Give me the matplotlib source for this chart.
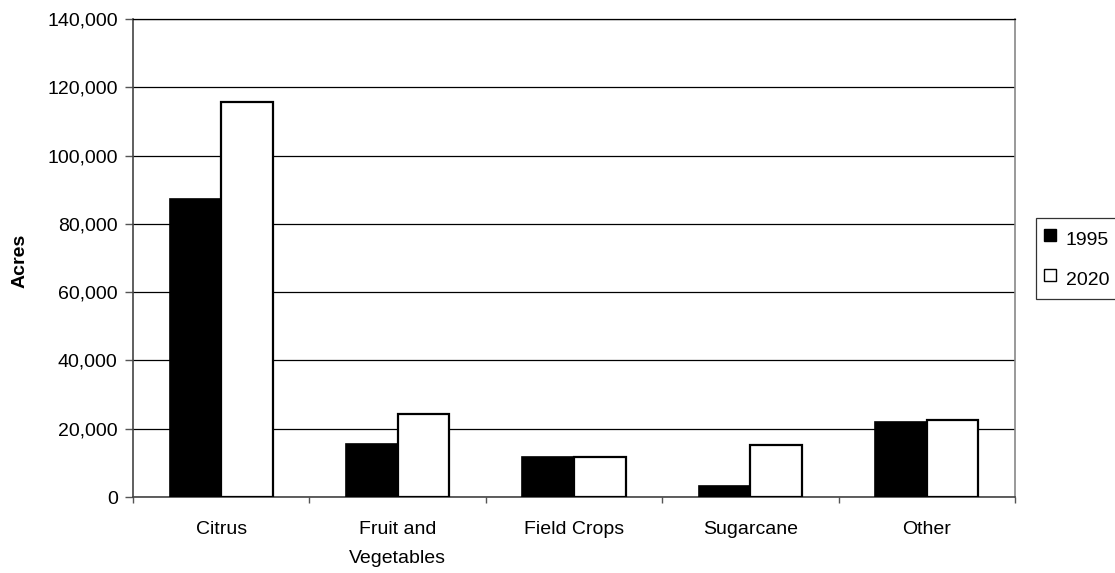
import matplotlib
matplotlib.use("Agg")
import matplotlib.pyplot as plt
import numpy as np
from matplotlib.ticker import FuncFormatter, FixedLocator
from matplotlib.lines import Line2D

plt.rcParams['font.family'] = ['Liberation Sans', 'DejaVu Sans']

categories = ["Citrus", "Fruit and\nVegetables", "Field Crops", "Sugarcane", "Other"]
acres_1995 = [87300, 15400, 11700, 3200, 22100]
acres_2020 = [115800, 24300, 11600, 15300, 22500]
years = ["1995", "2020"]

FS = 14

fig = plt.figure(figsize=(11.15, 5.73), dpi=100)
ax = fig.add_axes([133 / 1115, 1 - 497 / 573, (1015 - 133) / 1115, (497 - 19) / 573])

x = np.arange(len(categories))
w = 0.292
ax.bar(x - w / 2, acres_1995, width=w, color="black", edgecolor="black", linewidth=1.2, zorder=3)
ax.bar(x + w / 2, acres_2020, width=w, color="white", edgecolor="black", linewidth=1.6, zorder=3)

ax.set_xlim(-0.5, len(categories) - 0.5)
ax.set_ylim(0, 140000)
ax.set_yticks(np.arange(0, 140001, 20000))
ax.yaxis.set_major_formatter(FuncFormatter(lambda v, p: f"{int(v):,}"))
ax.grid(axis="y", color="black", linewidth=0.9, zorder=0)

ax.set_xticks(x)
ax.set_xticklabels(categories, fontsize=FS, linespacing=1.93, va="top")
ax.tick_params(axis="x", length=0, pad=17.5)
ax.xaxis.set_minor_locator(FixedLocator(np.arange(-0.5, len(categories), 1.0)))
ax.tick_params(axis="x", which="minor", length=4.5, color="#555555", width=1)
ax.tick_params(axis="y", length=6, color="#555555", width=1, labelsize=FS, pad=5)

for side in ["left", "bottom"]:
    ax.spines[side].set_color("#444444")
    ax.spines[side].set_linewidth(1.2)
ax.spines["right"].set_color("#888888")
ax.spines["right"].set_linewidth(1.2)
ax.spines["top"].set_color("black")
ax.spines["top"].set_linewidth(0.9)

ax.set_ylabel("Acres", fontsize=FS, fontweight="bold")
ax.yaxis.set_label_coords(-0.119, 0.494)

handles = [
    Line2D([], [], linestyle="none", marker="s", markersize=8.3,
           markerfacecolor="black", markeredgecolor="black", markeredgewidth=1.0),
    Line2D([], [], linestyle="none", marker="s", markersize=8.3,
           markerfacecolor="white", markeredgecolor="black", markeredgewidth=1.0),
]
leg = fig.legend(handles, years, loc="upper left", bbox_to_anchor=(1036 / 1115, 1 - 218 / 573),
                 frameon=True, fancybox=False, edgecolor="black", fontsize=FS,
                 handlelength=0.62, handleheight=1.67, handletextpad=0.5,
                 labelspacing=0.7, borderpad=0.4, borderaxespad=0)
leg.get_frame().set_linewidth(0.9)

fig.savefig("out.png", dpi=100)
